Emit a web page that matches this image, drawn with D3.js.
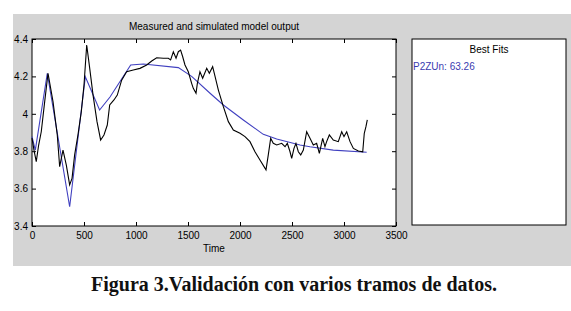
<!DOCTYPE html>
<html>
<head>
<meta charset="utf-8">
<script src="https://cdn.jsdelivr.net/npm/d3@7"></script>
<style>
  body { margin: 0; background: #fff; }
  svg { display: block; font-family: Arial, "Liberation Sans", sans-serif; }
  .tick-lbl { font-size: 10px; fill: #000; }
  .caption { font-family: "Liberation Serif", "Times New Roman", serif; font-weight: bold; font-size: 20px; fill: #111; }
</style>
</head>
<body>
<div id="chart"></div>
<script>
// Datos
const timeMeas = [0, 19, 41, 64, 89, 122, 154, 202, 243, 266, 282, 298, 330, 362, 385, 410, 442, 474, 500, 526, 555, 587, 625, 660, 692, 724, 747, 788, 820,
  862, 910, 974, 1038, 1103, 1151, 1199, 1263, 1311, 1333, 1359, 1385, 1407, 1429, 1449, 1471, 1503, 1535, 1551, 1577, 1590, 1615, 1641, 1680, 1705, 1737,
  1760, 1792, 1840, 1888, 1936, 2000, 2048, 2096, 2144, 2192, 2250, 2272, 2295, 2320, 2353, 2401, 2433, 2455, 2481, 2497, 2519, 2538, 2561, 2584, 2609,
  2641, 2673, 2705, 2737, 2763, 2795, 2817, 2833, 2859, 2897, 2945, 2978, 3000, 3026, 3058, 3090, 3138, 3180, 3195, 3211, 3224];
const measured = [3.87, 3.806, 3.744, 3.833, 3.904, 4.065, 4.217, 4.065, 3.887, 3.717, 3.762, 3.806, 3.726, 3.62, 3.655, 3.78, 3.887, 4.011, 4.154, 4.368, 4.243, 4.1, 3.958, 3.86, 3.887, 3.94, 4.047, 4.074, 4.1,
  4.18, 4.225, 4.234, 4.243, 4.261, 4.282, 4.3, 4.297, 4.297, 4.288, 4.332, 4.297, 4.332, 4.341, 4.305, 4.261, 4.225, 4.163, 4.136, 4.11, 4.163, 4.225, 4.19, 4.243, 4.217, 4.252,
  4.2, 4.127, 4.038, 3.958, 3.913, 3.896, 3.878, 3.851, 3.797, 3.753, 3.7, 3.78, 3.869, 3.842, 3.833, 3.842, 3.824, 3.842, 3.797, 3.762, 3.815, 3.842, 3.797, 3.78, 3.806,
  3.904, 3.869, 3.833, 3.842, 3.789, 3.869, 3.824, 3.851, 3.887, 3.86, 3.851, 3.904, 3.878, 3.904, 3.851, 3.815, 3.801, 3.797, 3.896, 3.931, 3.967];

const timeSim = [0, 32, 147, 362, 513, 650, 750, 949, 1070, 1407, 1535, 1712, 1840, 2032, 2224, 2353, 2577, 2673, 2897, 3218];
const simulated = [3.878, 3.806, 4.217, 3.503, 4.198, 4.02, 4.09, 4.261, 4.266, 4.247, 4.2, 4.11, 4.047, 3.967, 3.89, 3.865, 3.833, 3.824, 3.806, 3.794];

const xTicks = [0, 500, 1000, 1500, 2000, 2500, 3000, 3500];
const yTicks = [3.4, 3.6, 3.8, 4, 4.2, 4.4];
const fitLabel = "P2ZUn: 63.26";

const W = 571, H = 311;
const plot = {left: 32, right: 396, top: 39, bottom: 226};

const svg = d3.select("#chart").append("svg")
  .attr("width", W).attr("height", H);

svg.append("rect").attr("width", W).attr("height", H).attr("fill", "#fff");

// Fondo gris de la ventana
svg.append("rect")
  .attr("x", 13).attr("y", 14).attr("width", W - 13).attr("height", 252)
  .attr("fill", "#d4d4d4");

const x = d3.scaleLinear().domain([0, 3500]).range([plot.left, plot.right]);
const y = d3.scaleLinear().domain([3.4, 4.4]).range([plot.bottom, plot.top]);

svg.append("rect")
  .attr("x", plot.left).attr("y", plot.top)
  .attr("width", plot.right - plot.left).attr("height", plot.bottom - plot.top)
  .attr("fill", "#fff");

// Ejes con ticks hacia dentro
const tk = 4;
const axB = svg.append("g").attr("transform", `translate(0,${plot.bottom})`)
  .call(d3.axisBottom(x).tickValues(xTicks).tickSize(-tk).tickPadding(6).tickFormat(d3.format("d")));
const axT = svg.append("g").attr("transform", `translate(0,${plot.top})`)
  .call(d3.axisTop(x).tickValues(xTicks).tickSize(-tk).tickFormat(""));
const axL = svg.append("g").attr("transform", `translate(${plot.left},0)`)
  .call(d3.axisLeft(y).tickValues(yTicks).tickSize(-tk).tickPadding(4).tickFormat(d => d3.format("")(d)));
const axR = svg.append("g").attr("transform", `translate(${plot.right},0)`)
  .call(d3.axisRight(y).tickValues(yTicks).tickSize(-tk).tickFormat(""));

[axB, axT, axL, axR].forEach(a => {
  a.select(".domain").remove();
  a.selectAll("line").attr("stroke", "#000");
  a.selectAll("text").attr("class", "tick-lbl").attr("font-family", null).attr("font-size", null);
});
axB.selectAll("text").attr("dy", "0.71em");

svg.append("rect")
  .attr("x", plot.left).attr("y", plot.top)
  .attr("width", plot.right - plot.left).attr("height", plot.bottom - plot.top)
  .attr("fill", "none").attr("stroke", "#000").attr("stroke-width", 1);

// Series
const meas = timeMeas.map((t, i) => [t, measured[i]]);
const sim = timeSim.map((t, i) => [t, simulated[i]]);
const line = d3.line().x(d => x(d[0])).y(d => y(d[1]));

svg.append("path").datum(sim)
  .attr("fill", "none").attr("stroke", "#4040c0").attr("stroke-width", 1.1)
  .attr("d", line);
svg.append("path").datum(meas)
  .attr("fill", "none").attr("stroke", "#000").attr("stroke-width", 1.1)
  .attr("d", line);

// Títulos
svg.append("text").attr("x", (plot.left + plot.right) / 2).attr("y", 30)
  .attr("text-anchor", "middle").attr("font-size", 10).text("Measured and simulated model output");
svg.append("text").attr("x", (plot.left + plot.right) / 2).attr("y", 252)
  .attr("text-anchor", "middle").attr("font-size", 10).text("Time");

// Panel Best Fits
svg.append("rect")
  .attr("x", 412).attr("y", 39).attr("width", 154).attr("height", 186)
  .attr("fill", "#fff").attr("stroke", "#000");
svg.append("text").attr("x", 489).attr("y", 53)
  .attr("text-anchor", "middle").attr("font-size", 10).text("Best Fits");
svg.append("text").attr("x", 413).attr("y", 70)
  .attr("font-size", 10).attr("fill", "#3a3ab0").text(fitLabel);

// Pie de figura
svg.append("text").attr("class", "caption")
  .attr("x", 294).attr("y", 291).attr("text-anchor", "middle")
  .text("Figura 3.Validación con varios tramos de datos.");
</script>
</body>
</html>
